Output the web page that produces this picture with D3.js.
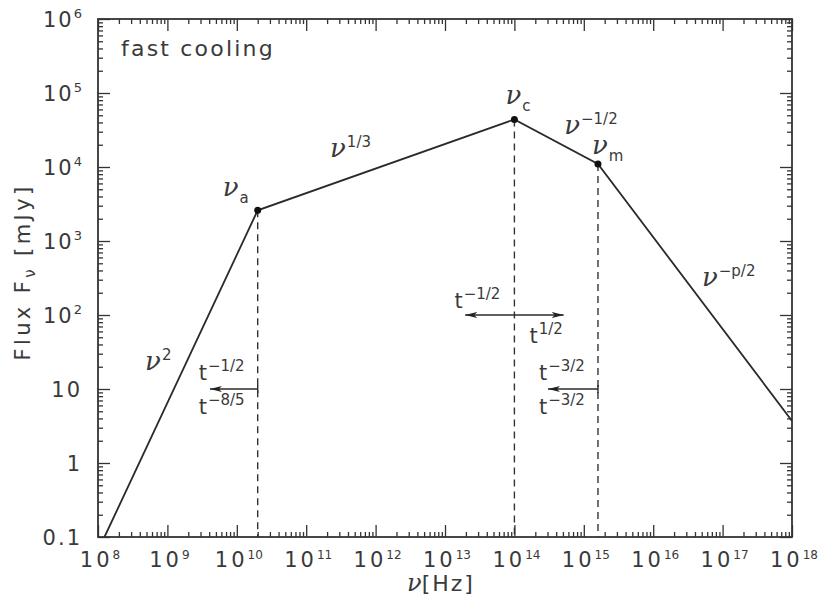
<!DOCTYPE html>
<html>
<head>
<meta charset="utf-8">
<script src="https://cdn.jsdelivr.net/npm/d3@7"></script>
<style>
  html, body { margin: 0; padding: 0; background: #fff; }
  svg text { font-family: "DejaVu Sans", sans-serif; fill: #3a3a3a; }
  .greek { font-family: "DejaVu Serif", serif; font-style: italic; }
</style>
</head>
<body>
<svg id="chart" width="821" height="604"></svg>
<script>
// Synchrotron spectrum, fast cooling: broken power law through the break frequencies
const breakNu    = [1.24e8, 2e10, 1e14, 1.6e15, 1e18];
const breakFlux  = [0.1, 2600, 44000, 11000, 3.7];
const breakNames = ["", "a", "c", "m", ""];
const slopeLabels = ["2", "1/3", "\u22121/2", "\u2212p/2"];

// Axis ticks
const xExponents = [8, 9, 10, 11, 12, 13, 14, 15, 16, 17, 18];
const yTickValues = [0.1, 1, 10, 1e2, 1e3, 1e4, 1e5, 1e6];
const yTickBase   = ["0.1", "1", "10", "10", "10", "10", "10", "10"];
const yTickExp    = ["", "", "", "2", "3", "4", "5", "6"];

// Time evolution of the breaks: arrow from one frequency to another at a flux level
const shiftFrom  = [2e10, Math.pow(10, 13.29), 1.6e15];
const shiftTo    = [4.1e9, Math.pow(10, 14.71), 3.05e14];
const shiftFlux  = [10, 100, 10];
const shiftUpper = ["\u22121/2", "\u22121/2", "\u22123/2"];
const shiftLower = ["\u22128/5", "1/2", "\u22123/2"];

const M = { l: 98, r: 792, t: 19, b: 537 };
const ink = "#333";

const x = d3.scaleLog().domain([1e8, 1e18]).range([M.l, M.r]);
const y = d3.scaleLog().domain([0.1, 1e6]).range([M.b, M.t]);

const svg = d3.select("#chart");

// minor ticks at 2..9 within each decade
const minorX = [];
for (let e = 8; e < 18; e++) for (let k = 2; k <= 9; k++) minorX.push(k * Math.pow(10, e));
const minorY = [];
for (let e = -1; e < 6; e++) for (let k = 2; k <= 9; k++) minorY.push(k * Math.pow(10, e));
const majorX = xExponents.map(e => Math.pow(10, e));

function tickSet(axis, transform, values, size) {
  const g = svg.append("g").attr("transform", transform)
    .call(axis.tickValues(values).tickSize(size).tickSizeOuter(0).tickFormat(""));
  g.select(".domain").remove();
  g.selectAll(".tick line").attr("stroke", ink).attr("stroke-width", 1.3);
}
tickSet(d3.axisBottom(x), `translate(0,${M.b})`, majorX, -12);
tickSet(d3.axisBottom(x), `translate(0,${M.b})`, minorX, -5);
tickSet(d3.axisTop(x), `translate(0,${M.t})`, majorX, -12);
tickSet(d3.axisTop(x), `translate(0,${M.t})`, minorX, -5);
tickSet(d3.axisLeft(y), `translate(${M.l},0)`, yTickValues, -12);
tickSet(d3.axisLeft(y), `translate(${M.l},0)`, minorY, -5);
tickSet(d3.axisRight(y), `translate(${M.r},0)`, yTickValues, -12);
tickSet(d3.axisRight(y), `translate(${M.r},0)`, minorY, -5);

// frame
svg.append("rect")
  .attr("x", M.l).attr("y", M.t)
  .attr("width", M.r - M.l).attr("height", M.b - M.t)
  .attr("fill", "none").attr("stroke", ink).attr("stroke-width", 1.8);

// x tick labels
const xl = svg.append("g").selectAll("text").data(xExponents).join("text")
  .attr("x", e => x(Math.pow(10, e)) + 2)
  .attr("y", 567)
  .attr("text-anchor", "middle")
  .style("font-size", "21px");
xl.append("tspan").text("10").style("letter-spacing", "3px");
xl.append("tspan").text(e => e).style("font-size", "12px").attr("dy", -8);

// y tick labels
const yl = svg.append("g").selectAll("text").data(yTickValues).join("text")
  .attr("x", 82)
  .attr("y", d => y(d) + 8)
  .attr("text-anchor", "end")
  .style("font-size", "21px");
yl.append("tspan").text((d, i) => yTickBase[i]).style("letter-spacing", "2px");
yl.append("tspan").text((d, i) => yTickExp[i]).style("font-size", "13px").attr("dy", -9);

// axis titles
const xt = svg.append("text").attr("x", 441).attr("y", 591).attr("text-anchor", "middle");
xt.append("tspan").attr("class", "greek").style("font-size", "24px").text("\u03bd");
xt.append("tspan").style("font-size", "22px").style("letter-spacing", "2px").text("[Hz]");

const yt = svg.append("text")
  .attr("transform", "translate(30,272) rotate(-90)")
  .attr("text-anchor", "middle")
  .style("font-size", "21px").style("letter-spacing", "3.4px");
yt.append("tspan").text("Flux F");
yt.append("tspan").style("font-size", "15px").attr("dy", 5).text("\u03bd");
yt.append("tspan").attr("dy", -5).text(" [mJy]");

// dashed drop lines from the break points
const breaks = d3.range(1, 4);
svg.append("g").selectAll("line").data(breaks).join("line")
  .attr("x1", i => x(breakNu[i])).attr("x2", i => x(breakNu[i]))
  .attr("y1", i => y(breakFlux[i])).attr("y2", M.b)
  .attr("stroke", ink).attr("stroke-width", 1.4).attr("stroke-dasharray", "7,5");

// the spectrum
svg.append("clipPath").attr("id", "plotClip").append("rect")
  .attr("x", M.l).attr("y", M.t).attr("width", M.r - M.l).attr("height", M.b - M.t);
svg.append("path")
  .datum(breakNu.map((n, i) => [n, breakFlux[i]]))
  .attr("clip-path", "url(#plotClip)")
  .attr("d", d3.line().x(d => x(d[0])).y(d => y(d[1])))
  .attr("fill", "none").attr("stroke", "#2a2a2a").attr("stroke-width", 1.8);

svg.append("g").selectAll("circle").data(breaks).join("circle")
  .attr("cx", i => x(breakNu[i])).attr("cy", i => y(breakFlux[i]))
  .attr("r", 3.5).attr("fill", "#111");

// break labels nu_a, nu_c, nu_m
const breakOffset = { 1: [-35, -14], 2: [-9, -15], 3: [-6, -10] };
breaks.forEach(i => {
  const t = svg.append("text")
    .attr("x", x(breakNu[i]) + breakOffset[i][0])
    .attr("y", y(breakFlux[i]) + breakOffset[i][1]);
  t.append("tspan").attr("class", "greek").style("font-size", "26px").text("\u03bd");
  t.append("tspan").style("font-size", "15px").attr("dx", 1).attr("dy", 7).text(breakNames[i]);
});

// power-law index labels at each segment
const slopeOffset = [[-36, -4], [-56, -8], [8, -8], [7, -6]];
slopeLabels.forEach((s, i) => {
  const mx = (x(breakNu[i]) + x(breakNu[i + 1])) / 2;
  const my = (y(breakFlux[i]) + y(breakFlux[i + 1])) / 2;
  const t = svg.append("text").attr("x", mx + slopeOffset[i][0]).attr("y", my + slopeOffset[i][1]);
  t.append("tspan").attr("class", "greek").style("font-size", "26px").text("\u03bd");
  t.append("tspan").style("font-size", "15px").attr("dx", 1).attr("dy", -10).text(s);
});

// fast cooling tag
svg.append("text").attr("x", 121).attr("y", 56)
  .style("font-size", "22px").style("letter-spacing", "2.2px").text("fast cooling");

// arrow heads
const defs = svg.append("defs");
defs.append("marker").attr("id", "head")
  .attr("viewBox", "0 0 12 6").attr("refX", 12).attr("refY", 3)
  .attr("markerWidth", 12).attr("markerHeight", 6)
  .attr("markerUnits", "userSpaceOnUse").attr("orient", "auto-start-reverse")
  .append("path").attr("d", "M0,0 L12,3 L0,6 L3,3 Z").attr("fill", "#222");

shiftFrom.forEach((nu0, i) => {
  const x0 = x(nu0), x1 = x(shiftTo[i]), yy = y(shiftFlux[i]);
  const both = i === 1;
  const ln = svg.append("line")
    .attr("x1", x0).attr("x2", x1).attr("y1", yy).attr("y2", yy)
    .attr("stroke", "#2a2a2a").attr("stroke-width", 1.4)
    .attr("marker-end", "url(#head)");
  if (both) {
    ln.attr("marker-start", "url(#head)");
  } else {
    svg.append("line").attr("x1", x0).attr("x2", x0).attr("y1", yy - 4).attr("y2", yy + 4)
      .attr("stroke", "#2a2a2a").attr("stroke-width", 1.4);
  }
  // labels
  const left = both ? (x0 + x1) / 2 - 60 : Math.max(x0, x1) - 59;
  const up = svg.append("text").attr("x", left).attr("y", yy + (both ? -7 : -9)).style("font-size", "21px");
  up.append("tspan").text("t");
  up.append("tspan").style("font-size", "15px").attr("dx", 1).attr("dy", -9).text(shiftUpper[i]);
  const lowX = both ? (x0 + x1) / 2 + 15 : left;
  const lo = svg.append("text").attr("x", lowX).attr("y", yy + (both ? 28 : 25)).style("font-size", "21px");
  lo.append("tspan").text("t");
  lo.append("tspan").style("font-size", "15px").attr("dx", 1).attr("dy", -9).text(shiftLower[i]);
});
</script>
</body>
</html>
